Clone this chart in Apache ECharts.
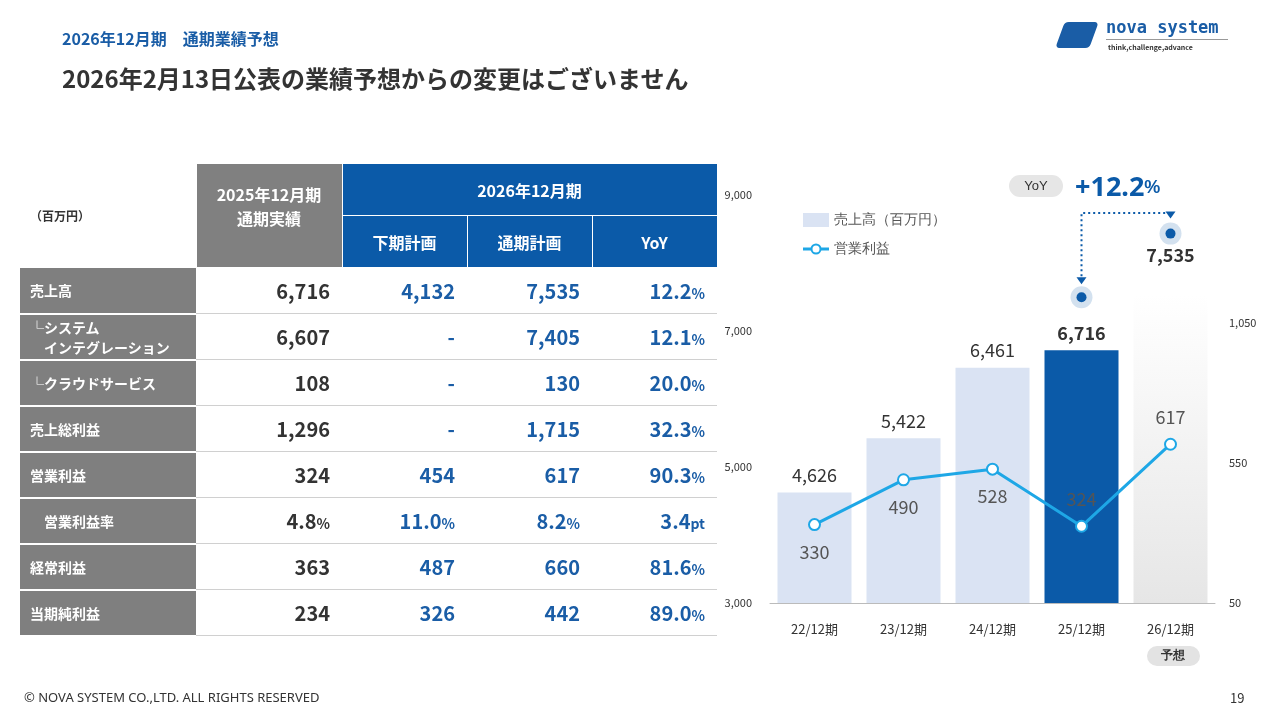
<!DOCTYPE html>
<html><head><meta charset="utf-8">
<script src="https://cdn.jsdelivr.net/npm/echarts@6/dist/echarts.min.js"></script>
<style>
body{margin:0;width:1280px;height:720px;overflow:hidden;background:#fff;font-family:"Noto Sans CJK JP","Noto Sans",sans-serif;}
#chart{position:absolute;left:0;top:0;width:1280px;height:720px;}
.abs{position:absolute;}
table{border-collapse:collapse;position:absolute;left:20px;top:163px;font-family:"Noto Sans CJK JP";}
td{padding:0;height:46px;border-bottom:1px solid #d0d0d0;font-weight:bold;font-size:20px;text-align:right;padding-right:12px;box-sizing:border-box;}
td.lab{background:#7f7f7f;color:#fff;font-size:14px;text-align:left;padding-left:10px;border-bottom:2px solid #fff;}
td.v0{color:#333;}
td.v{color:#1a5da6;}
td small{font-size:14px;}
th{font-size:16px;color:#fff;font-weight:bold;border:1px solid #fff;}
</style></head><body>
<div id="chart"></div>
<div class="abs" style="left:62px;top:26px;color:#1a5da6;font-weight:bold;font-size:16px;">2026年12月期　通期業績予想</div>
<div class="abs" style="left:62px;top:60px;color:#333;font-weight:bold;font-size:24px;">2026年2月13日公表の業績予想からの変更はございません</div>
<div class="abs" style="left:1060px;top:22px;width:34px;height:26px;background:#1a5da6;transform:skewX(-20deg);border-radius:4px;"></div>
<div class="abs" style="left:1106px;top:17px;color:#1a5da6;font-weight:bold;font-size:17px;font-family:'DejaVu Sans Mono';">nova system</div>
<div class="abs" style="left:1106px;top:39px;width:122px;border-top:1px solid #999;"></div>
<div class="abs" style="left:1108px;top:42px;color:#333;font-size:7px;font-weight:bold;">think,challenge,advance</div>
<div class="abs" style="left:24px;top:688px;color:#333;font-size:13px;font-family:'Noto Sans';">© NOVA SYSTEM CO.,LTD. ALL RIGHTS RESERVED</div>
<div class="abs" style="left:1230px;top:688px;color:#333;font-size:13px;">19</div>
<table id="tbl"></table>
<script>
// table data
var rowLabels = ['売上高', '└システム<br>　インテグレーション', '└クラウドサービス', '売上総利益', '営業利益', '　営業利益率', '経常利益', '当期純利益'];
var actual2025 = ['6,716', '6,607', '108', '1,296', '324', '4.8<small>%</small>', '363', '234'];
var plan2H = ['4,132', '-', '-', '-', '454', '11.0<small>%</small>', '487', '326'];
var planFull = ['7,535', '7,405', '130', '1,715', '617', '8.2<small>%</small>', '660', '442'];
var yoy = ['12.2<small>%</small>', '12.1<small>%</small>', '20.0<small>%</small>', '32.3<small>%</small>', '90.3<small>%</small>', '3.4<small>pt</small>', '81.6<small>%</small>', '89.0<small>%</small>'];

// chart data
var periods = ['22/12期', '23/12期', '24/12期', '25/12期', '26/12期'];
var sales = [4626, 5422, 6461, 6716, 7535];
var opProfit = [330, 490, 528, 324, 617];

var h = '<tr><td class="lab" rowspan="2" style="background:#fff;color:#333;font-size:12px;border:none;height:84px;">（百万円）</td>' +
  '<th rowspan="2" style="background:#808080;width:143px;height:84px;vertical-align:top;padding-top:18px;">2025年12月期<br>通期実績</th>' +
  '<th colspan="3" style="background:#0b5aa8;height:42px;">2026年12月期</th></tr>' +
  '<tr><th style="background:#0b5aa8;width:122px;height:42px;">下期計画</th><th style="background:#0b5aa8;width:122px;">通期計画</th><th style="background:#0b5aa8;width:122px;">YoY</th></tr>';
for (var i = 0; i < rowLabels.length; i++) {
  h += '<tr><td class="lab" style="width:176px;">' + rowLabels[i] + '</td><td class="v0">' + actual2025[i] + '</td><td class="v">' + plan2H[i] +
    '</td><td class="v">' + planFull[i] + '</td><td class="v">' + yoy[i] + '</td></tr>';
}
document.getElementById('tbl').innerHTML = h;

var chart = echarts.init(document.getElementById('chart'));
var barColors = ['#dae3f3', '#dae3f3', '#dae3f3', '#0b5aa8', null];
var option = {
  animation: false,
  textStyle: { fontFamily: 'Noto Sans CJK JP' },
  grid: { left: 770, right: 65, top: 195, bottom: 117 },
  xAxis: {
    type: 'category', data: periods,
    axisLine: { lineStyle: { color: '#bbb' } }, axisTick: { show: false },
    axisLabel: { color: '#333', fontSize: 13, margin: 20 }
  },
  yAxis: [{
    type: 'value', min: 3000, max: 9000, interval: 2000,
    splitLine: { show: false },
    axisLabel: { color: '#333', fontSize: 11, margin: 18, formatter: function (v) { return v.toLocaleString(); } }
  }, {
    type: 'value', min: 50, max: 1507, interval: 500,
    splitLine: { show: false },
    axisLabel: { color: '#333', fontSize: 11, margin: 14, showMaxLabel: false, formatter: function (v) { return v.toLocaleString(); } }
  }],
  series: [{
    type: 'bar', data: sales.map(function (v, i) {
      var c = barColors[i] || new echarts.graphic.LinearGradient(0, 0, 0, 1, [{ offset: 0, color: '#ffffff' }, { offset: 1, color: '#e6e6e6' }]);
      var lbl = { fontWeight: i >= 3 ? 'bold' : 'normal' };
      if (i === 4) lbl.distance = 30;
      return { value: v, itemStyle: { color: c }, label: lbl };
    }),
    barWidth: 74,
    label: { show: true, position: 'top', color: '#333', fontSize: 18, distance: 8, formatter: function (p) { return p.value.toLocaleString(); } }
  }, {
    type: 'line', yAxisIndex: 1, data: opProfit.map(function (v, i) {
      return { value: v, label: { position: (i === 3 || i === 4) ? 'top' : 'bottom' } };
    }),
    symbol: 'circle', symbolSize: 11,
    lineStyle: { color: '#1ea7e6', width: 3 },
    itemStyle: { color: '#fff', borderColor: '#1ea7e6', borderWidth: 2 },
    label: { show: true, color: '#555', fontSize: 18, distance: 12 }
  }]
};
chart.setOption(option);

// annotations positioned from the bar scale
var p3 = chart.convertToPixel({ seriesIndex: 0 }, [3, sales[3]]);
var p4 = chart.convertToPixel({ seriesIndex: 0 }, [4, sales[4]]);
var d3 = p3[1] - 53, d4 = p4[1] - 61;
var topY = 213;
function dot(x, y) {
  return [{ type: 'circle', shape: { cx: x, cy: y, r: 11 }, style: { fill: 'rgba(11,90,168,0.18)' } },
    { type: 'circle', shape: { cx: x, cy: y, r: 5 }, style: { fill: '#0b5aa8' } }];
}
chart.setOption({
  graphic: [].concat(dot(p3[0], d3), dot(p4[0], d4), [
    { type: 'polyline', shape: { points: [[p3[0], d3 - 16], [p3[0], topY], [p4[0], topY], [p4[0], d4 - 18]] }, style: { stroke: '#0b5aa8', lineWidth: 2, lineDash: [2, 3], fill: null } },
    { type: 'polygon', shape: { points: [[p3[0] - 5, d3 - 20], [p3[0] + 5, d3 - 20], [p3[0], d3 - 13]] }, style: { fill: '#0b5aa8' } },
    { type: 'polygon', shape: { points: [[p4[0] - 5, d4 - 22], [p4[0] + 5, d4 - 22], [p4[0], d4 - 15]] }, style: { fill: '#0b5aa8' } },
    { type: 'rect', shape: { x: 1009, y: 175, width: 54, height: 22, r: 11 }, style: { fill: '#e6e6e6' } },
    { type: 'text', x: 1036, y: 186, style: { text: 'YoY', fill: '#333', fontSize: 13, align: 'center', verticalAlign: 'middle' } },
    { type: 'text', x: 1075, y: 188, style: { rich: { a: { fontSize: 27, fontWeight: 'bold', fill: '#0b5aa8', fontFamily: 'Noto Sans' }, b: { fontSize: 18, fontWeight: 'bold', fill: '#0b5aa8' } }, text: '{a|+12.2}{b|%}', verticalAlign: 'middle' } },
    { type: 'rect', shape: { x: 803, y: 213, width: 26, height: 14 }, style: { fill: '#dae3f3' } },
    { type: 'text', x: 834, y: 220, style: { text: '売上高（百万円）', fill: '#555', fontSize: 14, verticalAlign: 'middle' } },
    { type: 'line', shape: { x1: 803, y1: 249, x2: 829, y2: 249 }, style: { stroke: '#1ea7e6', lineWidth: 3 } },
    { type: 'circle', shape: { cx: 816, cy: 249, r: 4.5 }, style: { fill: '#fff', stroke: '#1ea7e6', lineWidth: 2 } },
    { type: 'text', x: 834, y: 249, style: { text: '営業利益', fill: '#555', fontSize: 14, verticalAlign: 'middle' } },
    { type: 'rect', shape: { x: 1147, y: 646, width: 53, height: 20, r: 10 }, style: { fill: '#e3e3e3' } },
    { type: 'text', x: 1173, y: 656, style: { text: '予想', fill: '#333', fontSize: 12, fontWeight: 'bold', align: 'center', verticalAlign: 'middle' } }
  ])
});
</script>
</body></html>
